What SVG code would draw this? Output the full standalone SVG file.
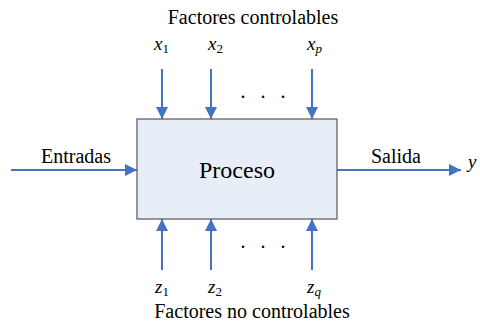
<svg xmlns="http://www.w3.org/2000/svg" width="480" height="325" viewBox="0 0 480 325">
  <style>
    text { font-family: 'Liberation Serif', 'Times New Roman', serif; fill: #000; }
    .lbl { font-size: 20px; }
    .var { font-size: 19px; font-style: italic; }
    .sub { font-size: 13px; font-style: normal; }
    .subi { font-size: 13px; font-style: italic; }
    .dots { font-size: 20px; }
    .arr { stroke: #4472C4; stroke-width: 2; fill: none; marker-end: url(#head); }
  </style>
  <defs>
    <marker id="head" viewBox="0 0 10 10" refX="10" refY="5" markerWidth="6" markerHeight="6" markerUnits="strokeWidth" orient="auto">
      <path d="M0,0 L10,5 L0,10 z" fill="#4472C4"/>
    </marker>
  </defs>
  <rect width="480" height="325" fill="#fff"/>

  <g id="connectors">
    <line class="arr" x1="162" y1="69" x2="162" y2="119"/>
    <line class="arr" x1="211" y1="69" x2="211" y2="119"/>
    <line class="arr" x1="312" y1="69" x2="312" y2="119"/>
    <line class="arr" x1="162" y1="270" x2="162" y2="219"/>
    <line class="arr" x1="211" y1="270" x2="211" y2="219"/>
    <line class="arr" x1="312" y1="270" x2="312" y2="219"/>
    <line class="arr" x1="11" y1="170" x2="137" y2="170"/>
    <line class="arr" x1="337" y1="170" x2="461" y2="170"/>
  </g>

  <g id="proceso">
    <rect x="137" y="119" width="200" height="100" fill="#E8EEF8" stroke="#555" stroke-width="1.2"/>
    <text x="237" y="178" font-size="24" text-anchor="middle">Proceso</text>
  </g>

  <g id="controlables">
    <text class="lbl" x="253" y="24" text-anchor="middle">Factores controlables</text>
    <text class="var" x="154" y="50">x<tspan class="sub" dy="3">1</tspan></text>
    <text class="var" x="208" y="50">x<tspan class="sub" dy="3">2</tspan></text>
    <text class="var" x="307" y="50">x<tspan class="subi" dy="3">p</tspan></text>
    <g class="dots">
      <text x="243" y="98" text-anchor="middle">.</text>
      <text x="263" y="98" text-anchor="middle">.</text>
      <text x="283" y="98" text-anchor="middle">.</text>
    </g>
  </g>

  <g id="no-controlables">
    <text class="var" x="155" y="293">z<tspan class="sub" dy="3">1</tspan></text>
    <text class="var" x="208" y="293">z<tspan class="sub" dy="3">2</tspan></text>
    <text class="var" x="307" y="293">z<tspan class="subi" dy="3">q</tspan></text>
    <text class="lbl" x="252" y="318" text-anchor="middle">Factores no controlables</text>
    <g class="dots">
      <text x="243" y="248" text-anchor="middle">.</text>
      <text x="263" y="248" text-anchor="middle">.</text>
      <text x="283" y="248" text-anchor="middle">.</text>
    </g>
  </g>

  <g id="entradas">
    <text class="lbl" x="76" y="163" text-anchor="middle">Entradas</text>
  </g>
  <g id="salida">
    <text class="lbl" x="396" y="163" text-anchor="middle">Salida</text>
    <text class="var" x="468" y="168">y</text>
  </g>
</svg>
